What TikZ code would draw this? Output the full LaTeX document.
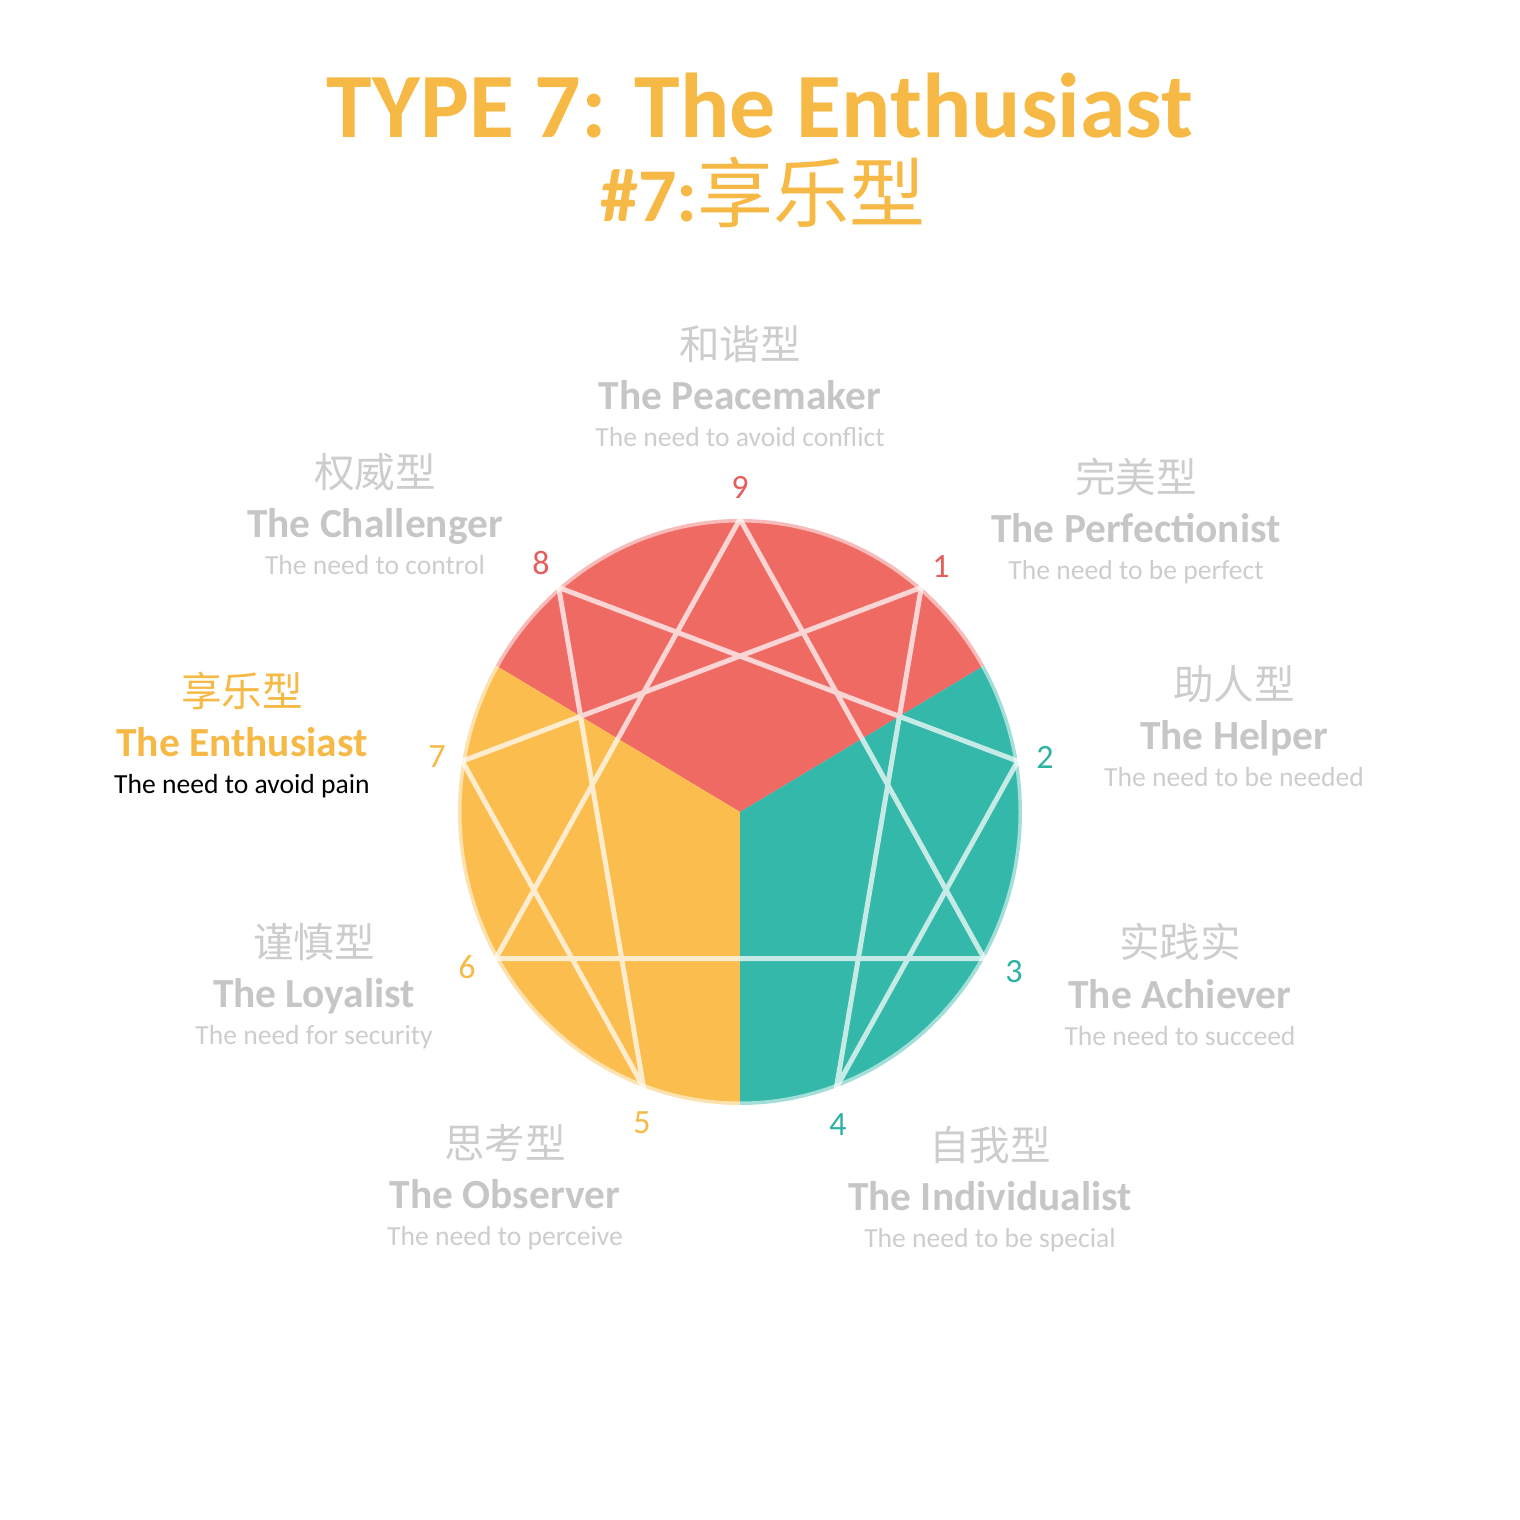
\documentclass[tikz,border=0pt]{standalone}
\usepackage{fontspec}
\setmainfont{Carlito}
\newfontfamily\cnfont{Noto Sans CJK SC}
\usepackage{tikz}
\usetikzlibrary{positioning}

\definecolor{typered}{HTML}{F06A64}
\definecolor{typeyellow}{HTML}{FBBE4E}
\definecolor{typeteal}{HTML}{33B8A9}
\definecolor{numred}{HTML}{E65D5B}
\definecolor{numyellow}{HTML}{F6B945}
\definecolor{numteal}{HTML}{2EB2A3}
\definecolor{titleorange}{HTML}{F6B945}
\definecolor{namegray}{HTML}{C6C6C6}
\definecolor{needgray}{HTML}{CDCDCD}

\begin{document}
\begin{tikzpicture}[x=0.5pt, y=0.5pt,
    title/.style={anchor=base, text=titleorange, font=\fontsize{46}{52}\selectfont\bfseries},
    subtitle/.style={anchor=base, text=titleorange, font=\fontsize{38}{44}\selectfont},
    typecn/.style={anchor=base, text=needgray, font=\cnfont\fontsize{20.3}{24}\selectfont},
    typename/.style={anchor=base, text=namegray, font=\fontsize{20.7}{24}\selectfont\bfseries},
    typeneed/.style={anchor=base, text=needgray, font=\fontsize{13.8}{16}\selectfont},
    typenum/.style={font=\fontsize{17}{20}\selectfont},
    ennealine/.style={white, line width=2.5pt, line join=round},
    rim/.style={white, opacity=0.55, line width=3.5pt}]
    \useasboundingbox (-740,-708) rectangle (780,812);

    % heading
    \node[title] (title) at (20,674) {TYPE 7: The Enthusiast};
    \node[subtitle] (sub) at (23,590) {{\bfseries\#7:}{\cnfont 享乐型}};

    % the three centres
    \fill[typered] (0,0) -- (30:282 and 293) arc[start angle=30, end angle=150, x radius=282, y radius=293] -- cycle;
    \fill[typeyellow] (0,0) -- (150:282 and 293) arc[start angle=150, end angle=270, x radius=282, y radius=293] -- cycle;
    \fill[typeteal] (0,0) -- (270:282 and 293) arc[start angle=270, end angle=390, x radius=282, y radius=293] -- cycle;
    \draw[rim] (0,0) ellipse [x radius=282, y radius=293];

    % points on the rim
    \foreach \k in {1,...,9}
        \coordinate (v\k) at ({90-40*\k}:282 and 293);

    % triangle 9-3-6 and hexad 1-4-2-8-5-7
    \begin{scope}[transparency group, opacity=0.72]
        \draw[ennealine] (v9) -- (v3) -- (v6) -- cycle;
        \draw[ennealine] (v1) -- (v4) -- (v2) -- (v8) -- (v5) -- (v7) -- cycle;
    \end{scope}

    % numbers
    \node[typenum, text=numred] (num9) at (0,325) {9};
    \node[typenum, text=numred] (num1) at (201,245) {1};
    \node[typenum, text=numteal] (num2) at (305,55) {2};
    \node[typenum, text=numteal] (num3) at (274,-160) {3};
    \node[typenum, text=numteal] (num4) at (98,-313) {4};
    \node[typenum, text=numyellow] (num5) at (-98,-311) {5};
    \node[typenum, text=numyellow] (num6) at (-273,-155) {6};
    \node[typenum, text=numyellow] (num7) at (-303,55) {7};
    \node[typenum, text=numred] (num8) at (-199,249) {8};

    % type 9
    \node[typename] (name9) at (0,402) {The Peacemaker};
    \node[typecn] (cn9) at ([yshift=25pt]name9.base) {和谐型};
    \node[typeneed] (need9) at ([yshift=-18.5pt]name9.base) {The need to avoid conflict};

    % type 1
    \node[typename] (name1) at (396,269) {The Perfectionist};
    \node[typecn] (cn1) at ([yshift=25pt]name1.base) {完美型};
    \node[typeneed] (need1) at ([yshift=-18.5pt]name1.base) {The need to be perfect};

    % type 2
    \node[typename] (name2) at (494,62) {The Helper};
    \node[typecn] (cn2) at ([yshift=25pt]name2.base) {助人型};
    \node[typeneed] (need2) at ([yshift=-18.5pt]name2.base) {The need to be needed};

    % type 3
    \node[typename] (name3) at (440,-196) {The Achiever};
    \node[typecn] (cn3) at ([yshift=25pt]name3.base) {实践实};
    \node[typeneed] (need3) at ([yshift=-18.5pt]name3.base) {The need to succeed};

    % type 4
    \node[typename] (name4) at (250,-398) {The Individualist};
    \node[typecn] (cn4) at ([yshift=25pt]name4.base) {自我型};
    \node[typeneed] (need4) at ([yshift=-18.5pt]name4.base) {The need to be special};

    % type 5
    \node[typename] (name5) at (-235,-396) {The Observer};
    \node[typecn] (cn5) at ([yshift=25pt]name5.base) {思考型};
    \node[typeneed] (need5) at ([yshift=-18.5pt]name5.base) {The need to perceive};

    % type 6
    \node[typename] (name6) at (-426,-195) {The Loyalist};
    \node[typecn] (cn6) at ([yshift=25pt]name6.base) {谨慎型};
    \node[typeneed] (need6) at ([yshift=-18.5pt]name6.base) {The need for security};

    % type 7 (highlighted)
    \node[typename, text=titleorange] (name7) at (-498,55) {The Enthusiast};
    \node[typecn, text=titleorange] (cn7) at ([yshift=25pt]name7.base) {享乐型};
    \node[typeneed, text=black] (need7) at ([yshift=-18.5pt]name7.base) {The need to avoid pain};

    % type 8
    \node[typename] (name8) at (-365,274) {The Challenger};
    \node[typecn] (cn8) at ([yshift=25pt]name8.base) {权威型};
    \node[typeneed] (need8) at ([yshift=-18.5pt]name8.base) {The need to control};
\end{tikzpicture}
\end{document}
